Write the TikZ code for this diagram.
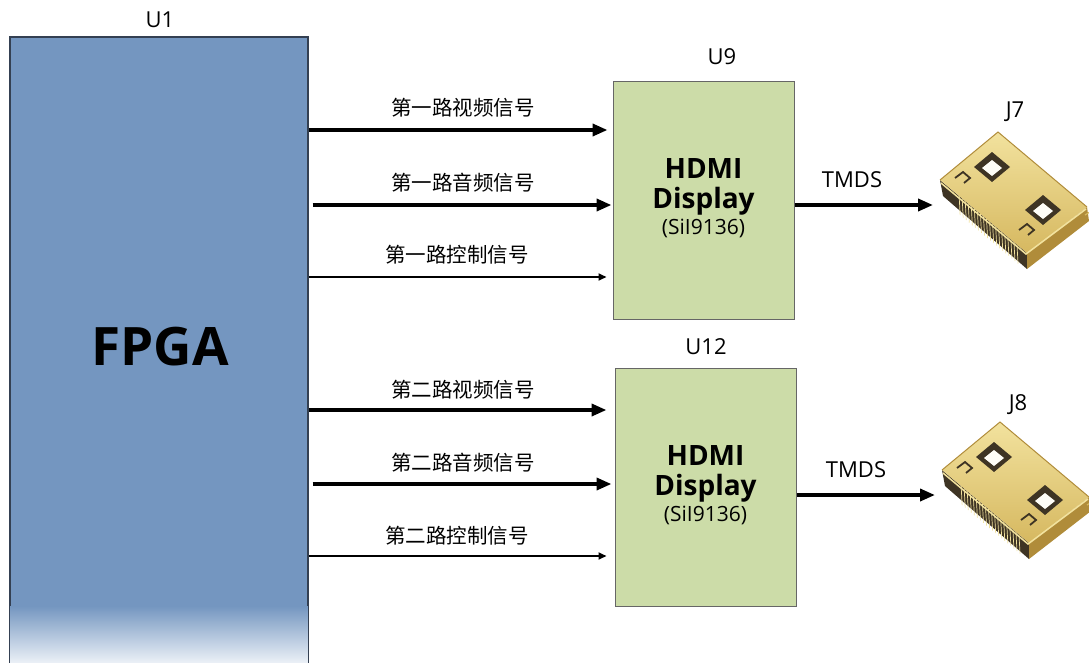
\documentclass[tikz,border=0pt]{standalone}
\usepackage{fontspec}
\setmainfont{Open Sans}
\newfontfamily\cjk{Noto Sans CJK SC}
\usepackage{tikz}
\usetikzlibrary{arrows.meta,positioning,calc}
\definecolor{fpgablue}{RGB}{116,150,192}
\definecolor{fpgafade}{RGB}{236,241,247}
\definecolor{fpgaline}{RGB}{52,64,82}
\definecolor{hdmigreen}{RGB}{204,220,168}
\definecolor{jacklight}{RGB}{242,226,158}
\definecolor{jackgold}{RGB}{214,184,96}
\definecolor{jackside}{RGB}{176,140,58}
\definecolor{jackdark}{RGB}{62,52,36}
\tikzset{
  chip/.style={draw=black!60, line width=1pt, fill=hdmigreen, minimum width=181pt, minimum height=238pt},
  tag/.style={font=\fontsize{22}{26}\selectfont},
  sig/.style={font=\cjk\fontsize{20.5}{24}\selectfont},
  bigarrow/.style={line width=3.6pt, -{Triangle[length=15pt,width=12pt]}},
  thinarrow/.style={line width=1.7pt, -{Triangle[length=8pt,width=7pt]}},
  jackpin/.style={draw=jacklight, line width=0.7pt},
  hdmijack/.pic={
    % socket body
    \fill[jackdark] (-73,-25) -- (14,48) -- (14,64) -- (-70,-9) -- cycle;
    \foreach \t in {0.22,0.255,...,0.9}
      \draw[jackpin] ($(-73,-25)!\t!(14,48)$) -- ++(1,19);
    \fill[jackside] (14,48) -- (74,2) -- (76,16) -- (14,64) -- cycle;
    \shade[top color=jacklight, bottom color=jackgold] (-73,-25) -- (-15,-73) -- (74,2) -- (14,48) -- cycle;
    \draw[jackside, line width=1pt] (-73,-25) -- (-15,-73) -- (74,2);
    \draw[jacklight, line width=1.5pt] (-72,-22) -- (13,49) -- (73,4);
    % windows
    \foreach \c in {(-21,-38),(30,5)} {
      \fill[jackdark] \c +(18,0) -- +(0,15) -- +(-18,0) -- +(0,-15) -- cycle;
      \fill[white!92!jacklight] \c +(10,1) -- +(0,9) -- +(-10,1) -- +(0,-7) -- cycle;
    }
    % hooks
    \foreach \c in {(-50,-25),(14,27)}
      \draw[jackdark, line width=1.8pt] \c +(-8,-2) -- +(0,-8) -- +(7,-2) -- +(1,3);
    \draw[jackgold, line width=1.2pt] (72,10) -- (80,5);
    \coordinate (-in) at (-80,0);
  }
}

\begin{document}
\begin{tikzpicture}[x=1pt, y=-1pt]
\useasboundingbox (0,0) rectangle (1089,662);
\clip (0,0) rectangle (1089,662);

% FPGA block
\node[draw=fpgaline, line width=1.2pt, fill=fpgablue, minimum width=298pt, minimum height=640pt] (fpga) at (159,357) {};
\shade[top color=fpgablue, bottom color=fpgafade] ([xshift=0.8pt]fpga.west |- 0,606) rectangle ([xshift=-0.8pt]fpga.east |- 0,663);
\node[font=\bfseries\fontsize{53}{60}\selectfont] at (160,347) {FPGA};
\node[tag] at (160,20) {U1};

% HDMI transmitters
\node[chip] (u9) at (703.5,200) {};
\node[chip] (u12) at (705.5,487) {};
\foreach \u in {u9, u12} {
  \node[font=\bfseries\fontsize{28}{30}\selectfont, align=center] at ([yshift=13pt]\u.center) {HDMI\\Display};
  \node[font=\fontsize{21}{24}\selectfont] at ([yshift=-28pt]\u.center) {(SiI9136)};
}
\node[tag] at (722,57) {U9};
\node[tag] at (706,347) {U12};

% signals, first channel
\draw[bigarrow] (fpga.east |- 0,130) -- ([xshift=-5pt]u9.west |- 0,130);
\draw[bigarrow] ([xshift=4pt]fpga.east |- 0,205) -- ([xshift=-1pt]u9.west |- 0,205);
\draw[thinarrow] (fpga.east |- 0,277) -- ([xshift=-6pt]u9.west |- 0,277);
\node[sig] at (463,108) {第一路视频信号};
\node[sig] at (463,183) {第一路音频信号};
\node[sig] at (457,255) {第一路控制信号};

% signals, second channel
\draw[bigarrow] (fpga.east |- 0,410) -- ([xshift=-8pt]u12.west |- 0,410);
\draw[bigarrow] ([xshift=4pt]fpga.east |- 0,484) -- ([xshift=-3pt]u12.west |- 0,484);
\draw[thinarrow] (fpga.east |- 0,556) -- ([xshift=-8pt]u12.west |- 0,556);
\node[sig] at (463,390) {第二路视频信号};
\node[sig] at (463,463) {第二路音频信号};
\node[sig] at (457,536) {第二路控制信号};

% HDMI jacks
\pic (j7) at (1013,205) {hdmijack};
\pic (j8) at (1015,495) {hdmijack};
\node[tag] at (1015,112) {J7};
\node[tag] at (1018,405) {J8};
\draw[bigarrow] (u9.east |- j7-in) -- (j7-in);
\draw[bigarrow] (u12.east |- j8-in) -- (j8-in);
\node[tag] at (852,180) {TMDS};
\node[tag] at (856,470) {TMDS};
\end{tikzpicture}
\end{document}
